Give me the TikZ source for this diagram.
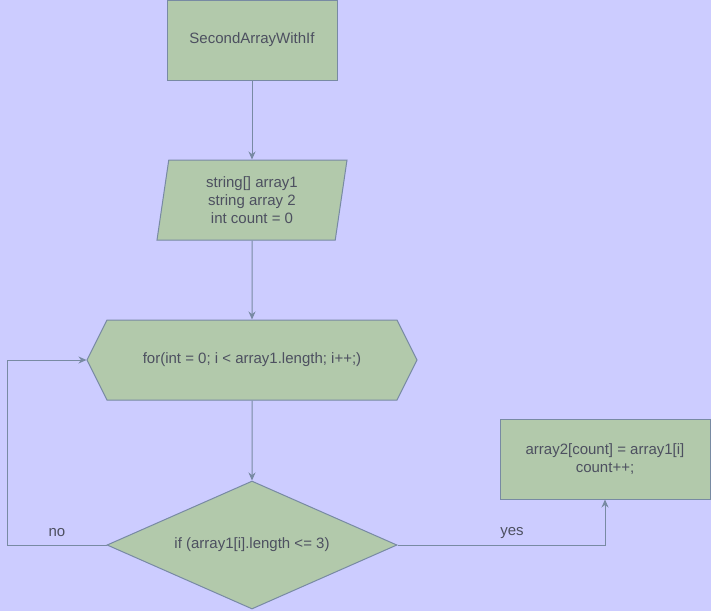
\documentclass[tikz,border=0pt]{standalone}
\usepackage{fontspec}
\setmainfont{Liberation Sans}
\usetikzlibrary{shapes.geometric,shapes.symbols,arrows.meta}
\definecolor{bgc}{RGB}{204,204,255}
\definecolor{boxc}{RGB}{178,201,171}
\definecolor{linec}{RGB}{120,138,163}
\definecolor{textc}{RGB}{77,80,96}

\begin{document}
\begin{tikzpicture}[x=1pt, y=-1pt,
    every node/.style={font=\fontsize{15}{18}\selectfont, text=textc},
    blk/.style={draw=linec, fill=boxc, line width=1pt, inner sep=0pt, align=center},
    flow/.style={draw=linec, line width=1pt, -{Stealth[length=8pt,width=7pt]}}]
  \fill [bgc] (0,0) rectangle (711,611);
  \useasboundingbox (0,0) rectangle (711,611);
  %
  \node [blk, rectangle, minimum width=170pt, minimum height=80pt]
    (start) at (252,40) {SecondArrayWithIf};
  \node [blk, trapezium, trapezium left angle=75.96, trapezium right angle=104.04,
    trapezium stretches body, minimum width=190pt, minimum height=80pt]
    (vars) at (252,200) {string[] array1\\string array 2\\int count = 0};
  \node [blk, signal, signal to=west and east, signal pointer angle=126.87,
    minimum width=330pt, minimum height=80pt]
    (loop) at (252,360) {for(int = 0; i < array1.length; i++;)};
  \node [blk, diamond, aspect=2.2656, minimum width=290pt, minimum height=128pt]
    (cond) at (252,545) {if (array1[i].length <= 3)};
  \node [blk, rectangle, minimum width=210pt, minimum height=80pt]
    (copy) at (605,459) {array2[count] = array1[i]\\count++;};
  %
  \draw [flow] (start) -- (vars);
  \draw [flow] (vars) -- (loop);
  \draw [flow] (loop) -- (cond);
  \draw [flow] (cond.west) -- (7,545) -- (7,360) -- (loop.west);
  \draw [flow] (cond.east) -| (copy.south);
  %
  \node (no) at (57,533) {no};
  \node (yes) at (512,533) {yes};
\end{tikzpicture}
\end{document}
